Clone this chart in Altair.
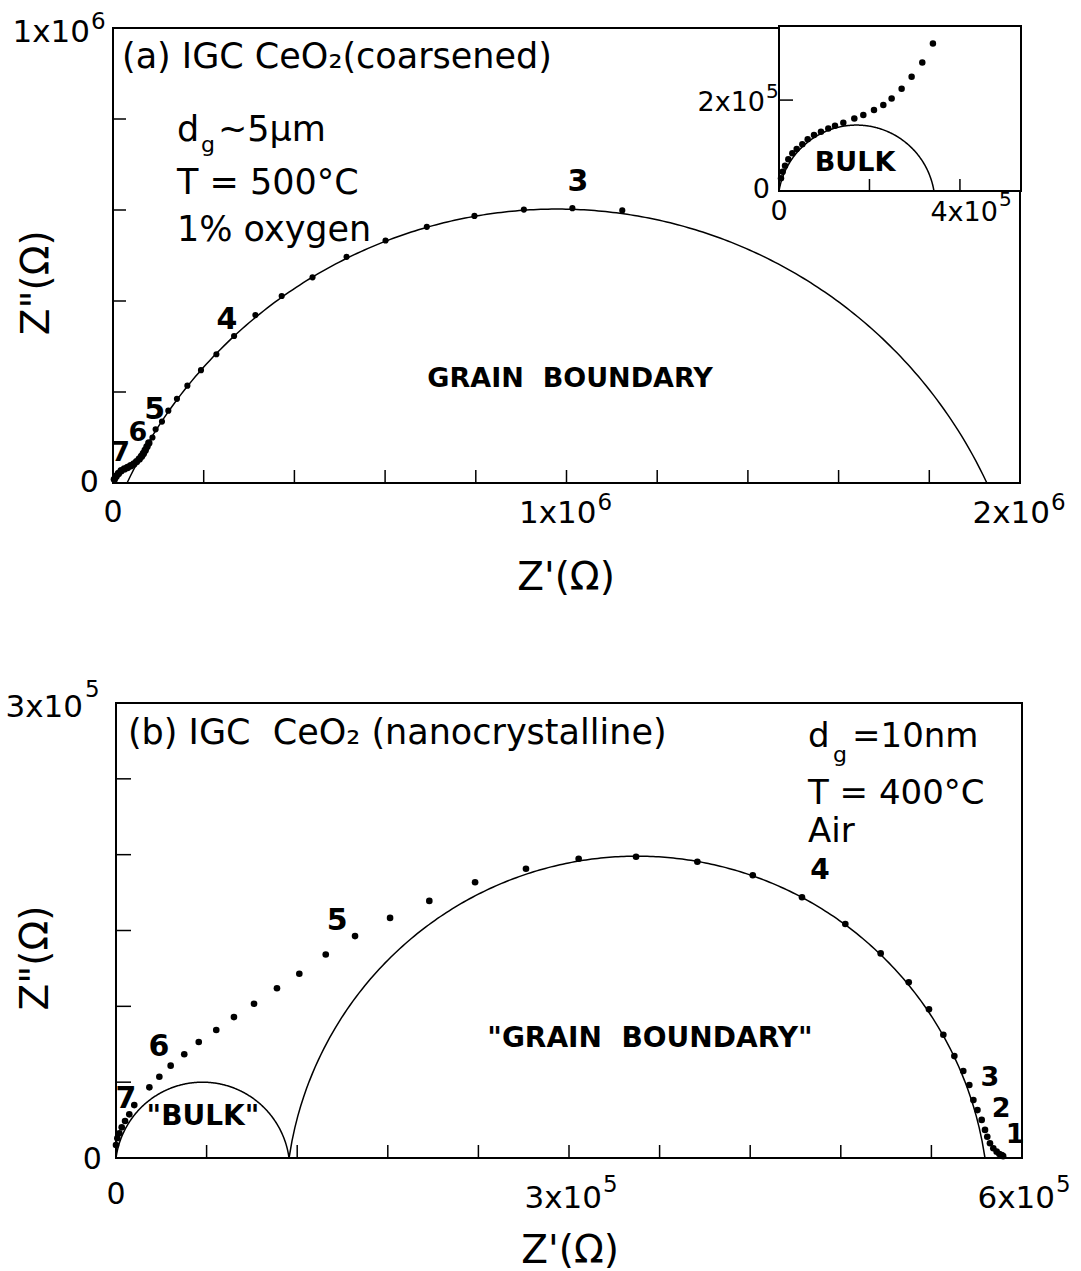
import altair as alt
import numpy as np
import pandas as pd

FONT = "DejaVu Sans"

# ---------------- panel (a): IGC CeO2 coarsened, 500 C ----------------
a_zre = [1.123e6, 1.013e6, 0.906e6, 0.797e6, 0.692e6, 0.601e6, 0.515e6, 0.440e6, 0.372e6,
         0.314e6, 0.267e6, 0.228e6, 0.194e6, 0.164e6, 0.141e6, 0.122e6, 0.108e6, 0.094e6, 0.087e6]
a_zim = [0.599e6, 0.604e6, 0.601e6, 0.587e6, 0.563e6, 0.533e6, 0.497e6, 0.452e6, 0.411e6,
         0.369e6, 0.323e6, 0.283e6, 0.248e6, 0.214e6, 0.185e6, 0.159e6, 0.135e6, 0.118e6, 0.100e6]
# high-frequency points crowded near the origin
a_hf_zre = [0.079e6, 0.075e6, 0.071e6, 0.067e6, 0.063e6, 0.058e6, 0.052e6, 0.046e6, 0.039e6,
            0.032e6, 0.025e6, 0.018e6, 0.012e6, 0.007e6, 0.003e6]
a_hf_zim = [0.088e6, 0.080e6, 0.072e6, 0.065e6, 0.059e6, 0.053e6, 0.047e6, 0.042e6, 0.038e6,
            0.034e6, 0.031e6, 0.027e6, 0.021e6, 0.015e6, 0.008e6]
# fitted grain-boundary arc: left intercept, right intercept, apex height
a_gb_arc = [0.031e6, 1.927e6, 0.602e6]

# ---------------- inset of (a): high-frequency "bulk" region ----------------
in_zre = [3.403e5, 3.168e5, 2.932e5, 2.711e5, 2.490e5, 2.306e5, 2.100e5, 1.864e5, 1.665e5, 1.422e5,
          1.238e5, 1.090e5, 0.928e5, 0.774e5, 0.634e5, 0.516e5, 0.391e5, 0.295e5, 0.206e5, 0.133e5,
          0.081e5, 0.044e5]
in_zim = [3.246e5, 2.829e5, 2.512e5, 2.249e5, 2.037e5, 1.890e5, 1.780e5, 1.670e5, 1.597e5, 1.502e5,
          1.436e5, 1.377e5, 1.304e5, 1.231e5, 1.136e5, 1.026e5, 0.923e5, 0.828e5, 0.697e5, 0.556e5,
          0.424e5, 0.279e5]
in_bulk_arc = [0.0, 3.426e5, 1.45e5]

# ---------------- panel (b): IGC CeO2 nanocrystalline, 400 C ----------------
b_zre = [0.0, 0.009e5, 0.022e5, 0.038e5, 0.060e5, 0.088e5, 0.121e5, 0.221e5, 0.287e5, 0.362e5,
         0.452e5, 0.548e5, 0.664e5, 0.781e5, 0.914e5, 1.066e5, 1.214e5, 1.389e5, 1.583e5, 1.815e5,
         2.075e5, 2.378e5, 2.715e5, 3.064e5, 3.444e5, 3.850e5, 4.217e5, 4.543e5, 4.830e5, 5.064e5,
         5.250e5, 5.384e5, 5.479e5, 5.552e5, 5.611e5, 5.651e5, 5.678e5, 5.705e5, 5.733e5, 5.755e5,
         5.770e5, 5.788e5, 5.810e5, 5.832e5, 5.850e5, 5.866e5, 5.875e5]
b_zim = [0.086e5, 0.130e5, 0.163e5, 0.202e5, 0.244e5, 0.288e5, 0.349e5, 0.466e5, 0.536e5, 0.609e5,
         0.684e5, 0.765e5, 0.844e5, 0.929e5, 1.017e5, 1.119e5, 1.215e5, 1.342e5, 1.463e5, 1.583e5,
         1.695e5, 1.818e5, 1.907e5, 1.973e5, 1.986e5, 1.953e5, 1.864e5, 1.719e5, 1.543e5, 1.349e5,
         1.158e5, 0.980e5, 0.813e5, 0.672e5, 0.574e5, 0.481e5, 0.382e5, 0.316e5, 0.251e5, 0.185e5,
         0.140e5, 0.097e5, 0.064e5, 0.042e5, 0.026e5, 0.020e5, 0.012e5]
b_bulk_arc = [0.0, 1.146e5, 0.50e5]
b_gb_arc = [1.146e5, 5.755e5, 1.99e5]

# axis ticks
a_xticks = [2e5, 4e5, 6e5, 8e5, 1.0e6, 1.2e6, 1.4e6, 1.6e6, 1.8e6]
a_yticks = [2e5, 4e5, 6e5, 8e5]
in_xticks = [2e5, 4e5]
in_yticks = [2e5]
b_xticks = [6e4, 1.2e5, 1.8e5, 2.4e5, 3.0e5, 3.6e5, 4.2e5, 4.8e5, 5.4e5]
b_yticks = [5e4, 1e5, 1.5e5, 2e5, 2.5e5]

# panel placement on the page (pixel ranges of each plot frame)
PAN = {
    "a": dict(xd=[0, 2e6], xr=[113, 1020], yd=[0, 1e6], yr=[483, 28]),
    "i": dict(xd=[0, 5.35e5], xr=[779, 1021], yd=[0, 3.63e5], yr=[191, 26]),
    "b": dict(xd=[0, 6e5], xr=[116, 1022], yd=[0, 3e5], yr=[1158, 703]),
}


def enc(panel, ch):
    p = PAN[panel]
    return ch.encode(
        x=alt.X("x:Q", scale=alt.Scale(domain=p["xd"], range=p["xr"], nice=False, zero=False), axis=None),
        y=alt.Y("y:Q", scale=alt.Scale(domain=p["yd"], range=p["yr"], nice=False, zero=False), axis=None),
    )


def arc_df(arc, n=240):
    left, right, apex = arc
    c = (right - left) / 2.0
    xc = (left + right) / 2.0
    R = (c ** 2 + apex ** 2) / (2 * apex)
    yc = apex - R
    x = np.linspace(left, right, n)
    y = yc + np.sqrt(np.maximum(R ** 2 - (x - xc) ** 2, 0))
    return pd.DataFrame({"x": x, "y": np.maximum(y, 0)})


def frame(panel, fill="transparent"):
    p = PAN[panel]
    df = pd.DataFrame({"x": [p["xd"][0]], "x2": [p["xd"][1]], "y": [p["yd"][0]], "y2": [p["yd"][1]]})
    ch = alt.Chart(df).mark_rect(fill=fill, stroke="black", strokeWidth=2)
    return enc(panel, ch).encode(x2="x2:Q", y2="y2:Q")


def xticks(panel, vals, length=13):
    df = pd.DataFrame({"x": vals, "y": [0.0] * len(vals)})
    ch = alt.Chart(df).mark_rule(color="black", strokeWidth=1.5, y2Offset=-length)
    return enc(panel, ch).encode(y2="y:Q")


def yticks(panel, vals, length=13):
    df = pd.DataFrame({"y": vals, "x": [0.0] * len(vals)})
    ch = alt.Chart(df).mark_rule(color="black", strokeWidth=1.5, x2Offset=length)
    return enc(panel, ch).encode(x2="x:Q")


def line(panel, df, width=1.5):
    ch = alt.Chart(df).mark_line(color="black", strokeWidth=width)
    return enc(panel, ch)


def dots(panel, xs, ys, size=30):
    df = pd.DataFrame({"x": xs, "y": ys})
    ch = alt.Chart(df).mark_circle(color="black", opacity=1, size=size)
    return enc(panel, ch)


def text(panel, xs, ys, texts, size, weight="normal", align="center", dx=0, dy=0, angle=0):
    df = pd.DataFrame({"x": xs, "y": ys, "t": texts})
    ch = alt.Chart(df).mark_text(font=FONT, fontSize=size, fontWeight=weight, align=align,
                                 baseline="middle", dx=dx, dy=dy, angle=angle, color="black")
    return enc(panel, ch).encode(text="t:N")


layers = []

# ---------- panel (a) ----------
layers += [
    frame("a"),
    xticks("a", a_xticks, 13),
    yticks("a", a_yticks, 13),
    line("a", arc_df(a_gb_arc)),
    dots("a", a_zre, a_zim, 38),
    dots("a", a_hf_zre, a_hf_zim, 55),
    text("a", [0.0198e6], [0.936e6], ["(a) IGC CeO\u2082(coarsened)"], 35, align="left"),
    text("a", [0.141e6], [0.776e6], ["d"], 35, align="left"),
    text("a", [0.192e6], [0.742e6], ["g"], 22, align="left", dx=1),
    text("a", [0.2205e6], [0.776e6], ["~5\u03bcm"], 35, align="left", dx=5),
    text("a", [0.141e6, 0.141e6], [0.659e6, 0.556e6], ["T = 500\u00b0C", "1% oxygen"], 35, align="left"),
    text("a", [1.025e6, 0.251e6, 0.092e6], [0.662e6, 0.358e6, 0.160e6], ["3", "4", "5"], 30, weight="bold"),
    text("a", [0.055e6, 0.017e6], [0.110e6, 0.066e6], ["6", "7"], 27, weight="bold"),
    text("a", [1.008e6], [0.229e6], ["GRAIN\u00a0\u00a0BOUNDARY"], 27, weight="bold"),
    # tick labels
    text("a", [-0.031e6], [0.0], ["0"], 30, align="right"),
    text("a", [-0.0507e6], [0.989e6], ["1x10"], 31, align="right"),
    text("a", [-0.0485e6], [1.013e6], ["6"], 23, align="left"),
    text("a", [0.0], [-0.066e6], ["0"], 30),
    text("a", [1e6, 2e6], [-0.068e6, -0.068e6], ["1x10", "2x10"], 31, align="right", dx=30),
    text("a", [1e6, 2e6], [-0.044e6, -0.044e6], ["6", "6"], 23, align="left", dx=31),
    text("a", [0.999e6], [-0.209e6], ["Z'(\u03a9)"], 39),
    text("a", [-0.167e6], [0.440e6], ['Z"(\u03a9)'], 39, angle=270),
]

# ---------- inset ----------
layers += [
    frame("i", fill="white"),
    xticks("i", in_xticks, 12),
    yticks("i", in_yticks, 14),
    line("i", arc_df(in_bulk_arc)),
    dots("i", in_zre, in_zim, 42),
    text("i", [1.68e5], [0.615e5], ["BULK"], 27, weight="bold"),
    text("i", [0.004e5], [-0.455e5], ["0"], 27),
    text("i", [4e5], [-0.48e5], ["4x10"], 27, align="right", dx=38),
    text("i", [4e5], [-0.20e5], ["5"], 20, align="left", dx=39),
    text("i", [-0.2e5], [0.02e5], ["0"], 27, align="right"),
    text("i", [-0.309e5], [1.934e5], ["2x10"], 27, align="right"),
    text("i", [-0.287e5], [2.174e5], ["5"], 20, align="left"),
]

# ---------- panel (b) ----------
layers += [
    frame("b"),
    xticks("b", b_xticks, 13),
    yticks("b", b_yticks, 15),
    line("b", arc_df(b_bulk_arc)),
    line("b", arc_df(b_gb_arc)),
    dots("b", b_zre, b_zim, 44),
    text("b", [0.079e5], [2.802e5], ["(b) IGC\u00a0\u00a0CeO\u2082 (nanocrystalline)"], 35, align="left"),
    text("b", [4.583e5], [2.776e5], ["d"], 34, align="left"),
    text("b", [4.748e5], [2.657e5], ["g"], 22, align="left"),
    text("b", [4.861e5], [2.776e5], ["=10nm"], 34, align="left", dx=2),
    text("b", [4.583e5, 4.583e5], [2.40e5, 2.15e5], ["T = 400\u00b0C", "Air"], 34, align="left"),
    text("b", [4.662e5], [1.895e5], ["4"], 28, weight="bold"),
    text("b", [1.464e5, 0.285e5, 0.066e5], [1.563e5, 0.732e5, 0.389e5], ["5", "6", "7"], 30, weight="bold"),
    text("b", [5.788e5, 5.862e5, 5.955e5], [0.527e5, 0.325e5, 0.150e5], ["3", "2", "1"], 27, weight="bold"),
    text("b", [3.536e5], [0.785e5], ['"GRAIN\u00a0\u00a0BOUNDARY"'], 28, weight="bold"),
    text("b", [0.576e5], [0.27e5], ['"BULK"'], 28, weight="bold"),
    # tick labels
    text("b", [-0.2185e5], [2.967e5], ["3x10"], 31, align="right"),
    text("b", [-0.205e5], [3.085e5], ["5"], 23, align="left"),
    text("b", [-0.093e5], [-0.013e5], ["0"], 30, align="right"),
    text("b", [0.0], [-0.244e5], ["0"], 30),
    text("b", [3e5, 6e5], [-0.27e5, -0.27e5], ["3x10", "6x10"], 31, align="right", dx=33),
    text("b", [3e5, 6e5], [-0.175e5, -0.175e5], ["5", "5"], 23, align="left", dx=34),
    text("b", [3.007e5], [-0.613e5], ["Z'(\u03a9)"], 39),
    text("b", [-0.530e5], [1.319e5], ['Z"(\u03a9)'], 39, angle=270),
]

chart = (
    alt.layer(*layers)
    .resolve_scale(x="independent", y="independent")
    .properties(width=1081, height=1271, padding=0, background="white",
                autosize=alt.AutoSizeParams(type="none"))
    .configure_view(stroke=None)
)

chart.save("out.html", embed_options={"renderer": "svg", "actions": False})
